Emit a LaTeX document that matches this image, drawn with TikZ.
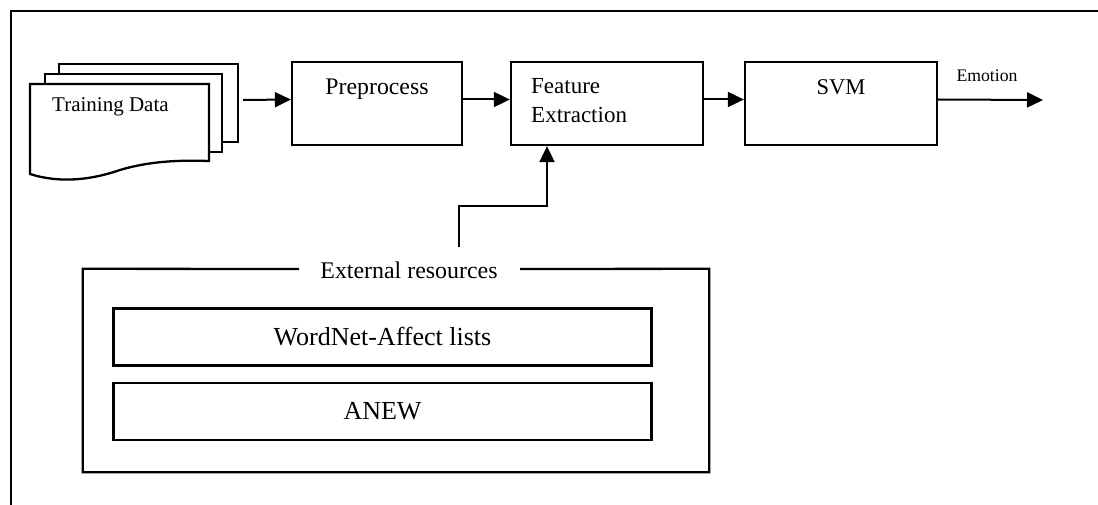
\documentclass[tikz,border=0pt]{standalone}
\usepackage{fontspec}
\setmainfont{Liberation Serif}
\usetikzlibrary{arrows.meta}
\begin{document}
\begin{tikzpicture}[x=1pt,y=-1pt,
  frame/.style={line width=2.3pt},
  procbox/.style={draw, line width=2.3pt, inner sep=0pt, minimum height=83pt},
  listbox/.style={draw, line width=2.3pt, inner sep=0pt, minimum width=538pt, minimum height=57pt,
    font=\fontsize{26}{30}\selectfont},
  conn/.style={line width=2pt, -{Triangle[length=16pt,width=15pt]}},
  plain/.style={line width=2pt},
  boxtext/.style={anchor=base, inner sep=0pt, font=\fontsize{23.8}{28}\selectfont}]
\useasboundingbox (0,0) rectangle (1098,505);
% outer frame
\draw[frame] (11,505) -- (11,11) -- (1098,11);
% training data document stack
\draw[frame] (59,74) -- (59,64) -- (238,64) -- (238,142) -- (222,142);
\draw[frame] (45,84) -- (45,74) -- (222,74) -- (222,152) -- (209,152);
\draw[frame] (30,84) -- (209,84) -- (209,161) .. controls (180,160) and (150,161) .. (120,170)
  .. controls (85,182) and (55,182) .. (30,174) -- cycle;
\node[anchor=base west, inner sep=0pt, font=\fontsize{21}{25}\selectfont] (doc) at (52,112) {Training Data};
\coordinate (docout) at (243,100);
% process boxes
\node[procbox, minimum width=170pt] (pre) at (377,103.5) {};
\node[boxtext] (pret) at (377,95) {Preprocess};
\node[procbox, minimum width=192pt] (feat) at (607,103.5) {};
\node[boxtext, anchor=base west, font=\fontsize{23}{28}\selectfont] (featt1) at (531,94) {Feature};
\node[boxtext, anchor=base west, font=\fontsize{23}{28}\selectfont] (featt2) at (531,123) {Extraction};
\node[procbox, minimum width=192pt] (svm) at (841,103.5) {};
\node[boxtext, font=\fontsize{22.5}{27}\selectfont] (svmt) at (841,95) {SVM};
\coordinate (out) at (1043,100);
\node[anchor=base, inner sep=0pt, font=\fontsize{17.7}{21}\selectfont] (emo) at (987,82) {Emotion};
% arrows
\draw[conn] (docout) -- ([yshift=4pt]pre.west);
\draw[conn] ([yshift=4pt]pre.east) -- ([yshift=4pt]feat.west);
\draw[conn] ([yshift=4pt]feat.east) -- ([yshift=4pt]svm.west);
\draw[conn] ([yshift=4pt]svm.east) -- (out);
% external resources
\node[minimum width=626pt, minimum height=203pt, inner sep=0pt] (ext) at (396,370.5) {};
\draw[frame] (299,269) -- (ext.north west) -- (ext.south west) -- (ext.south east) -- (ext.north east) -- (520,269);
\node[anchor=base, inner sep=0pt, font=\fontsize{23.9}{28}\selectfont] (extt) at (409,279) {External resources};
\node[listbox] (wn) at (382.5,337) {WordNet-Affect lists};
\node[listbox] (anew) at (382.5,411.3) {ANEW};
\coordinate (extout) at (459,247);
\draw[conn] (extout) -- (459,206) -| ([xshift=-60pt]feat.south);
\end{tikzpicture}
\end{document}
